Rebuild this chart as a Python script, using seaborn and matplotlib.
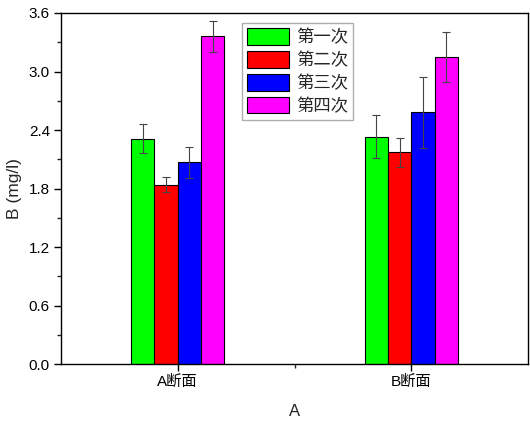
import matplotlib
matplotlib.use("Agg")
import matplotlib.pyplot as plt
import seaborn as sns
import pandas as pd
import numpy as np
from matplotlib.ticker import MultipleLocator, FixedLocator, FormatStrFormatter

categories = ["A断面", "B断面"]
series = ["第一次", "第二次", "第三次", "第四次"]
values = {
    "第一次": [2.31, 2.33],
    "第二次": [1.84, 2.17],
    "第三次": [2.07, 2.58],
    "第四次": [3.36, 3.15],
}
errors = {
    "第一次": [0.15, 0.22],
    "第二次": [0.077, 0.15],
    "第三次": [0.16, 0.36],
    "第四次": [0.16, 0.26],
}
colors = ["#00ff00", "#ff0000", "#0000ff", "#ff00ff"]

rows = []
for s in series:
    for c, v in zip(categories, values[s]):
        rows.append({"cat": c, "series": s, "val": v})
df = pd.DataFrame(rows)

sns.set_style("white")
plt.rcParams['font.family'] = ['Liberation Sans', 'Noto Sans CJK SC', 'DejaVu Sans']

fig = plt.figure(figsize=(5.3, 4.21), dpi=100)
ax = fig.add_axes([61/530, 57/421, 467/530, 351/421])

sns.barplot(data=df, x="cat", y="val", hue="series", order=categories,
            hue_order=series, palette=colors, width=0.4, errorbar=None,
            edgecolor="black", linewidth=0.8, saturation=1, ax=ax)

for cont, s in zip(ax.containers, series):
    xs = [p.get_x() + p.get_width() / 2 for p in cont.patches]
    ys = [p.get_height() for p in cont.patches]
    ax.errorbar(xs, ys, yerr=errors[s], fmt="none", ecolor="#444444",
                elinewidth=0.8, capsize=3, capthick=0.8)

ax.set_xlim(-0.5, 1.5)
ax.set_ylim(0, 3.6)
ax.yaxis.set_major_locator(MultipleLocator(0.6))
ax.yaxis.set_minor_locator(MultipleLocator(0.3))
ax.yaxis.set_major_formatter(FormatStrFormatter("%.1f"))
ax.xaxis.set_minor_locator(FixedLocator([0.5]))
ax.tick_params(axis="both", which="major", direction="out", length=5, width=1,
               labelsize=11, left=True, bottom=True, colors="black", pad=3)
ax.tick_params(axis="both", which="minor", direction="out", length=3, width=1,
               left=True, bottom=True)
for sp in ax.spines.values():
    sp.set_color("black")
    sp.set_linewidth(1)

ax.set_xlabel("A", fontsize=12, labelpad=11)
ax.set_ylabel("B (mg/l)", fontsize=12.5, labelpad=5)

leg = ax.legend(loc="upper left", bbox_to_anchor=(0.388, 0.972),
                frameon=True, fancybox=False, edgecolor="#999999",
                prop={"family": ["Noto Sans CJK SC"], "size": 12.5},
                handlelength=2.4, handleheight=1.1, labelspacing=0.27,
                handletextpad=0.4, borderpad=0.3, borderaxespad=0)
leg.get_frame().set_linewidth(1)

fig.savefig("out.png", dpi=100)
